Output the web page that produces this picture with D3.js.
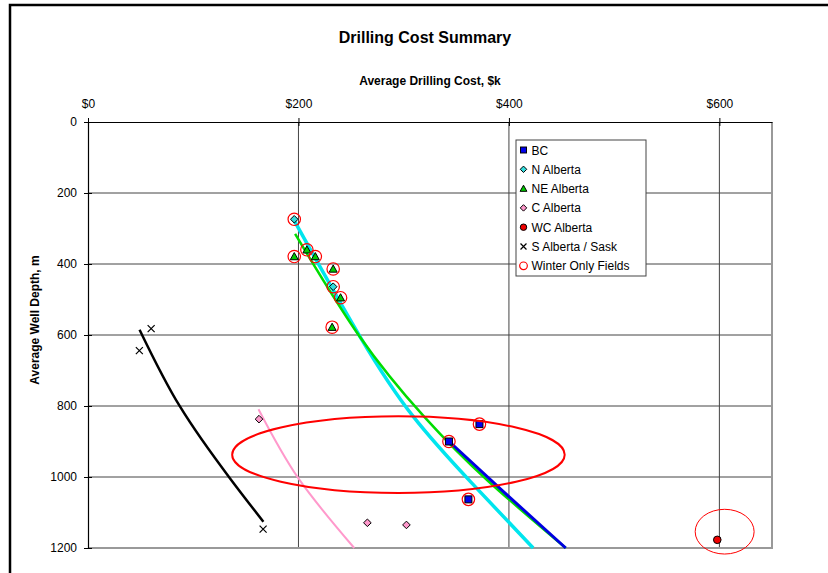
<!DOCTYPE html>
<html>
<head>
<meta charset="utf-8">
<script src="https://cdn.jsdelivr.net/npm/d3@7"></script>
<style>
  body { margin: 0; background: #fff; }
  svg { font-family: "Liberation Sans", Arial, sans-serif; }
  .tick text { font-size: 12px; fill: #000; }
</style>
</head>
<body>
<svg id="chart" width="828" height="573"></svg>
<script>
// ── Data (cost $k, depth m) ────────────────────────────
const xTicks = [0, 200, 400, 600];
const yTicks = [0, 200, 400, 600, 800, 1000, 1200];

const bcCost  = [372, 343, 361.5];
const bcDepth = [851, 900, 1063];
const nAlbCost  = [196, 233];
const nAlbDepth = [274, 464];
const neAlbCost  = [196, 208, 216, 233, 240, 232];
const neAlbDepth = [379, 360, 379, 414, 495, 578];
const cAlbCost  = [162.5, 265.5, 302.6];
const cAlbDepth = [837, 1129, 1135];
const wcAlbCost  = [598];
const wcAlbDepth = [1177];
const sAlbCost  = [60, 48.8, 166.4];
const sAlbDepth = [582, 644, 1147];

// trend lines
const trendN  = { color: '#00e5ee', width: 3.5, cost: [196, 258.6, 309.2, 365, 423], depth: [278, 605, 830, 1018, 1200] };
const trendNE = { color: '#00dd00', width: 2.5, cost: [196.8, 257.6, 319.4, 380.5, 454], depth: [315, 602, 830, 1012, 1200] };
const trendBC = { color: '#0000e0', width: 3,   cost: [343.2, 395, 454], depth: [900, 1042, 1200] };
const trendC  = { color: '#ff99cc', width: 2,   cost: [162, 200, 253], depth: [809, 1004, 1200] };
const trendS  = { color: '#000000', width: 2.5, cost: [49, 87.5, 135, 166.7], depth: [585, 802, 1004, 1126] };

// hand drawn highlight ellipses (centre + radii in data units)
const ellipses = [
  { cost: 295, depth: 937, rCost: 158, rDepth: 108, width: 2 },
  { cost: 605, depth: 1154, rCost: 28, rDepth: 63, width: 1 }
];

const legendNames = ['BC', 'N Alberta', 'NE Alberta', 'C Alberta', 'WC Alberta', 'S Alberta / Sask', 'Winter Only Fields'];

// ── Setup ──────────────────────────────────────────────
const svg = d3.select('#chart');
const x = d3.scaleLinear().domain([0, 650]).range([88, 772]);
const y = d3.scaleLinear().domain([0, 1200]).range([122, 548]);

// outer chart frame (right/bottom edges fall off the picture)
svg.append('rect')
  .attr('x', 10).attr('y', 5).attr('width', 900).attr('height', 700)
  .attr('fill', 'none').attr('stroke', '#000').attr('stroke-width', 2.5);

// titles
svg.append('text').attr('x', 425).attr('y', 43).attr('text-anchor', 'middle')
  .attr('font-size', 16).attr('font-weight', 'bold').text('Drilling Cost Summary');
svg.append('text').attr('x', 430).attr('y', 85).attr('text-anchor', 'middle')
  .attr('font-size', 12).attr('font-weight', 'bold').text('Average Drilling Cost, $k');
svg.append('text').attr('transform', 'translate(39,320) rotate(-90)').attr('text-anchor', 'middle')
  .attr('font-size', 12).attr('font-weight', 'bold').text('Average Well Depth, m');

/* ── Grid ─────────────────────────────────────────────── */
const grid = svg.append('g').attr('class', 'grid');
grid.selectAll('line.h').data(yTicks.slice(1)).join('line')
  .attr('x1', x(0)).attr('x2', x(650)).attr('y1', d => y(d)).attr('y2', d => y(d))
  .attr('stroke', '#444').attr('stroke-width', 1);
grid.selectAll('line.v').data(xTicks.slice(1)).join('line')
  .attr('x1', d => x(d)).attr('x2', d => x(d)).attr('y1', y(0)).attr('y2', y(1200))
  .attr('stroke', '#444').attr('stroke-width', 1);

// right + bottom plot border
svg.append('path')
  .attr('d', `M${x(650)},${y(0)} L${x(650)},${y(1200)} L${x(0)},${y(1200)}`)
  .attr('fill', 'none').attr('stroke', '#999').attr('stroke-width', 2);

/* ── Axes ─────────────────────────────────────────────── */
const xAxis = svg.append('g').attr('transform', `translate(0,${y(0)})`)
  .call(d3.axisTop(x).tickValues(xTicks).tickFormat(d => '$' + d).tickSizeOuter(0).tickSizeInner(4).tickPadding(10));
xAxis.selectAll('.tick line').attr('y1', 4);
const yAxis = svg.append('g').attr('transform', `translate(${x(0)},0)`)
  .call(d3.axisLeft(y).tickValues(yTicks).tickFormat(d3.format('d')).tickSizeOuter(0).tickSizeInner(4).tickPadding(7));
yAxis.selectAll('.tick line').attr('x1', 4);
svg.selectAll('.domain').attr('stroke', '#000').attr('stroke-width', 1.2);
svg.selectAll('.tick text').attr('font-family', '"Liberation Sans", Arial, sans-serif').attr('font-size', 12);

/* ── Trend lines ──────────────────────────────────────── */
const line = d3.line().x(d => x(d[0])).y(d => y(d[1])).curve(d3.curveNatural);
for (const t of [trendS, trendC, trendN, trendNE, trendBC]) {
  svg.append('path')
    .attr('d', line(d3.zip(t.cost, t.depth)))
    .attr('fill', 'none').attr('stroke', t.color).attr('stroke-width', t.width);
}

/* ── Markers ──────────────────────────────────────────── */
function marker(g, type, cx, cy, s) {
  s = s || 1;
  if (type === 'square') {
    g.append('rect').attr('x', cx - 3.5 * s).attr('y', cy - 3.5 * s).attr('width', 7 * s).attr('height', 7 * s)
      .attr('fill', '#0000ee').attr('stroke', '#000').attr('stroke-width', 1);
  } else if (type === 'diamondN' || type === 'diamondC') {
    const r = 3.8 * s;
    g.append('polygon').attr('points', `${cx},${cy - r} ${cx + r},${cy} ${cx},${cy + r} ${cx - r},${cy}`)
      .attr('fill', type === 'diamondN' ? '#33dddd' : '#ff99cc').attr('stroke', '#000').attr('stroke-width', 1);
  } else if (type === 'triangle') {
    const r = 4 * s;
    g.append('polygon').attr('points', `${cx},${cy - r} ${cx + r},${cy + r * 0.8} ${cx - r},${cy + r * 0.8}`)
      .attr('fill', '#00cc00').attr('stroke', '#000').attr('stroke-width', 1);
  } else if (type === 'dot') {
    g.append('circle').attr('cx', cx).attr('cy', cy).attr('r', 3.8 * s)
      .attr('fill', '#ee0000').attr('stroke', '#000').attr('stroke-width', 1);
  } else if (type === 'cross') {
    const r = 3.5 * s;
    g.append('path').attr('d', `M${cx - r},${cy - r}L${cx + r},${cy + r}M${cx - r},${cy + r}L${cx + r},${cy - r}`)
      .attr('stroke', '#000').attr('stroke-width', 1.2);
  } else if (type === 'winter') {
    g.append('circle').attr('cx', cx).attr('cy', cy).attr('r', 4.5 * s)
      .attr('fill', 'none').attr('stroke', '#ff0000').attr('stroke-width', 1.2);
  }
}

const series = [
  { type: 'square',   cost: bcCost,   depth: bcDepth,   winter: true },
  { type: 'diamondN', cost: nAlbCost, depth: nAlbDepth, winter: true },
  { type: 'triangle', cost: neAlbCost, depth: neAlbDepth, winter: true },
  { type: 'diamondC', cost: cAlbCost, depth: cAlbDepth, winter: false },
  { type: 'dot',      cost: wcAlbCost, depth: wcAlbDepth, winter: false },
  { type: 'cross',    cost: sAlbCost, depth: sAlbDepth, winter: false }
];

const pts = svg.append('g').attr('class', 'points');
for (const s of series) {
  s.cost.forEach((c, i) => marker(pts, s.type, x(c), y(s.depth[i])));
}
for (const s of series.filter(s => s.winter)) {
  s.cost.forEach((c, i) => marker(pts, 'winter', x(c), y(s.depth[i]), 1.38));
}

/* ── Highlight ellipses ───────────────────────────────── */
for (const e of ellipses) {
  svg.append('ellipse')
    .attr('cx', x(e.cost)).attr('cy', y(e.depth))
    .attr('rx', x(e.rCost) - x(0)).attr('ry', y(e.rDepth) - y(0))
    .attr('fill', 'none').attr('stroke', '#ff0000').attr('stroke-width', e.width);
}

/* ── Legend ───────────────────────────────────────────── */
const lg = svg.append('g').attr('transform', 'translate(516,140)');
lg.append('rect').attr('width', 130).attr('height', 136)
  .attr('fill', '#fff').attr('stroke', '#444').attr('stroke-width', 1);
const legendTypes = ['square', 'diamondN', 'triangle', 'diamondC', 'dot', 'cross', 'winter'];
legendNames.forEach((name, i) => {
  const cy = 10 + i * 19.3;
  marker(lg, legendTypes[i], 7.5, cy, 0.85);
  lg.append('text').attr('x', 15.5).attr('y', cy + 4.5).attr('font-size', 12).text(name);
});
</script>
</body>
</html>
